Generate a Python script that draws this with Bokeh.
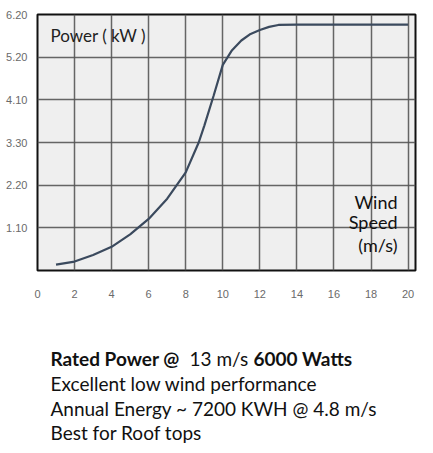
from bokeh.plotting import figure
from bokeh.models import Label, FixedTicker, Range1d
from bokeh.layouts import column
from bokeh.core.properties import value
from bokeh.embed import file_html
from bokeh.resources import INLINE

# Data
wind_speed = [1, 2, 3, 4, 5, 6, 7, 8, 8.7, 9, 9.5, 10, 10.5, 11, 11.5, 12, 12.5, 13, 14, 16, 18, 20]
power_kw = [0.15, 0.23, 0.40, 0.61, 0.93, 1.33, 1.85, 2.53, 3.30, 3.73, 4.50, 5.30, 5.68, 5.93, 6.10, 6.20, 6.28, 6.33, 6.34, 6.34, 6.34, 6.34]
x_ticks = [0, 2, 4, 6, 8, 10, 12, 14, 16, 18, 20]
y_ticks = [1.1, 2.2, 3.3, 4.4, 5.5, 6.6]
y_tick_labels = ["1.10", "2.20", "3.30", "4.10", "5.20", "6.20"]
headline = ["Rated Power @", "13 m/s", "6000 Watts"]
notes = ["Excellent low wind performance", "Annual Energy ~ 7200 KWH @ 4.8 m/s", "Best for Roof tops"]

FONT = "Lato"

p = figure(width=433, height=300, output_backend="svg", toolbar_location=None,
           x_range=Range1d(0, 20.4), y_range=Range1d(0, 6.6),
           min_border_left=37, min_border_right=18, min_border_top=14, min_border_bottom=28)
p.border_fill_color = "white"
p.background_fill_color = "#efefef"
p.outline_line_color = "#111111"
p.outline_line_width = 2

p.xaxis.ticker = FixedTicker(ticks=x_ticks)
p.yaxis.ticker = FixedTicker(ticks=y_ticks)
p.yaxis.major_label_overrides = {t: l for t, l in zip(y_ticks, y_tick_labels)}
for ax in (p.xaxis[0], p.yaxis[0]):
    ax.axis_line_color = None
    ax.major_tick_line_color = None
    ax.minor_tick_line_color = None
    ax.major_label_text_color = "#6a6a6a"
    ax.major_label_text_font = "Liberation Sans"
    ax.major_label_text_font_size = "11px"
p.xaxis.major_label_standoff = 13
p.yaxis.major_label_standoff = 4

p.xgrid.ticker = FixedTicker(ticks=x_ticks)
p.ygrid.ticker = FixedTicker(ticks=y_ticks)
p.grid.grid_line_color = "#555555"
p.grid.grid_line_width = 1.5
p.grid.grid_line_alpha = 0.9

p.line(wind_speed, power_kw, line_color="#3b4a5e", line_width=2.2)

p.add_layout(Label(x=13, y=235, x_units="screen", y_units="screen", text="Power  ( kW )",
                   text_font=FONT, text_font_size="17px", text_color="#222222",
                   text_baseline="middle", text_align="left"))
for txt, yy in zip(["Wind", "Speed", "(m/s)"], [69, 49, 26]):
    p.add_layout(Label(x=360, y=yy, x_units="screen", y_units="screen", text=txt,
                       text_font=FONT, text_font_size="18px", text_color="#111111",
                       text_baseline="middle", text_align="right"))

# Bottom text block as a second, axis-less figure. Its frame is aligned with the
# chart's frame (canvas px 37..415), so the x range is expressed in canvas pixels.
q = figure(width=433, height=153, output_backend="svg", toolbar_location=None,
           x_range=Range1d(37, 415), y_range=Range1d(153, 0),
           x_axis_location=None, y_axis_location=None,
           min_border=0, min_border_left=37, min_border_right=18, min_border_top=0, min_border_bottom=0)
q.grid.visible = False
q.outline_line_color = None
q.background_fill_color = "white"
q.border_fill_color = "white"

TS = "19px"
q.text(x=[50], y=[58], text=[headline[0]], text_font=value(FONT), text_font_size=TS,
       text_font_style="bold", text_color="#111111", text_baseline="middle")
q.text(x=[189], y=[58], text=[headline[1]], text_font=value(FONT), text_font_size=TS,
       text_color="#111111", text_baseline="middle")
q.text(x=[253], y=[58], text=[headline[2]], text_font=value(FONT), text_font_size=TS,
       text_font_style="bold", text_color="#111111", text_baseline="middle")
q.text(x=[50, 50, 50], y=[83, 108, 132], text=notes, text_font=value(FONT), text_font_size=TS,
       text_color="#111111", text_baseline="middle")

open("out.html", "w").write(file_html(column(p, q, spacing=0), INLINE))
